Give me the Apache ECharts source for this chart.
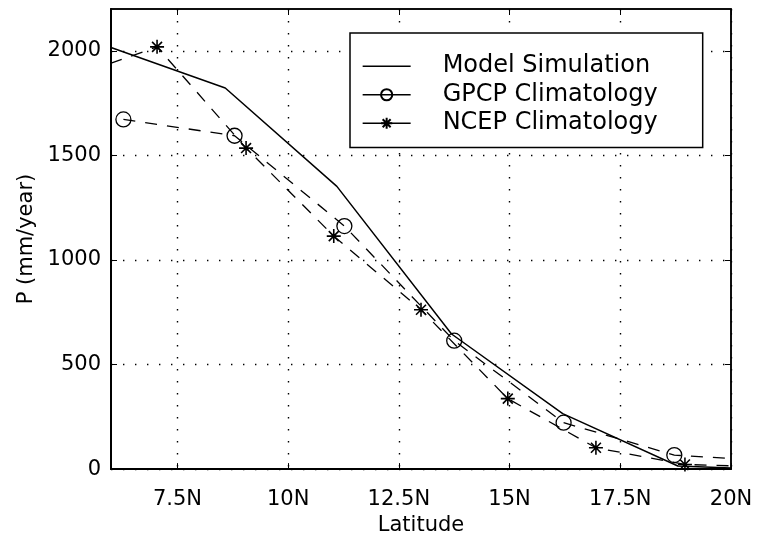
<!DOCTYPE html>
<html>
<head>
<meta charset="utf-8">
<script src="https://cdn.jsdelivr.net/npm/echarts@6/dist/echarts.min.js"></script>
<style>
html,body{margin:0;padding:0;background:#fff;}
#chart{width:757px;height:541px;}
</style>
</head>
<body>
<div id="chart"></div>
<script>
// ---- data ----
const modelLat = [6.0, 8.58, 11.1, 13.69, 16.2, 18.8, 20.0];
const modelVal = [2016, 1822, 1352, 646, 265, 15, 5];

const gpcpLat = [6.28, 8.79, 11.27, 13.75, 16.22, 18.72, 21.2];
const gpcpVal = [1672, 1594, 1162, 614, 222, 67, 35];

const ncepLat = [5.05, 7.04, 9.05, 11.03, 13.0, 14.96, 16.95, 18.96, 20.95];
const ncepVal = [1870, 2019, 1535, 1114, 762, 337, 102, 22, 10];

const xTicks = [7.5, 10, 12.5, 15, 17.5, 20];
const yTicks = [0, 500, 1000, 1500, 2000];

const seriesNames = ['Model Simulation', 'GPCP Climatology', 'NCEP Climatology'];
const xName = 'Latitude';
const yName = 'P (mm/year)';

function pairs(xs, ys) { return xs.map((x, i) => [x, ys[i]]); }

const FONT = 'DejaVu Sans';
const chart = echarts.init(document.getElementById('chart'), null, {renderer: 'canvas'});

const gridDots = {show: true, lineStyle: {color: '#000', width: 1.4, type: [1.4, 10.6]}};

chart.setOption({
  animation: false,
  backgroundColor: '#fff',
  textStyle: {fontFamily: FONT, color: '#000'},
  grid: {left: 111, top: 9, right: 26, bottom: 70, show: true, borderColor: '#000', borderWidth: 1.5, backgroundColor: 'transparent'},
  xAxis: [{
    type: 'value', min: 6, max: 20,
    name: xName, nameLocation: 'middle', nameGap: 40,
    nameTextStyle: {fontFamily: FONT, fontSize: 21, color: '#000'},
    axisLine: {show: true, onZero: false, lineStyle: {color: '#000', width: 2}},
    axisTick: {show: true, inside: true, length: 6, customValues: xTicks, lineStyle: {color: '#000', width: 1}},
    axisLabel: {show: true, customValues: xTicks, margin: 20, fontFamily: FONT, fontSize: 21, color: '#000',
      formatter: v => v + 'N'},
    splitLine: gridDots
  }, {
    type: 'value', min: 6, max: 20, position: 'top',
    axisLine: {show: true, onZero: false, lineStyle: {color: '#000', width: 1.5}},
    axisTick: {show: true, inside: true, length: 6, customValues: xTicks, lineStyle: {color: '#000', width: 1}},
    axisLabel: {show: false},
    splitLine: {show: false}
  }],
  yAxis: [{
    type: 'value', min: 0, max: 2200,
    name: yName, nameLocation: 'middle', nameGap: 57,
    nameTextStyle: {fontFamily: FONT, fontSize: 21, color: '#000'},
    axisLine: {show: true, onZero: false, lineStyle: {color: '#000', width: 2}},
    axisTick: {show: true, inside: true, length: 6, customValues: yTicks, lineStyle: {color: '#000', width: 1}},
    axisLabel: {show: true, customValues: yTicks, margin: 10, fontFamily: FONT, fontSize: 21, color: '#000',
      formatter: v => String(v)},
    splitLine: gridDots
  }, {
    type: 'value', min: 0, max: 2200, position: 'right',
    axisLine: {show: true, onZero: false, lineStyle: {color: '#000', width: 1.5}},
    axisTick: {show: true, inside: true, length: 6, customValues: yTicks, lineStyle: {color: '#000', width: 1}},
    axisLabel: {show: false},
    splitLine: {show: false}
  }],
  legend: {
    orient: 'vertical',
    left: 350, top: 33,
    padding: [19, 45, 10, 12],
    itemGap: 0,
    itemWidth: 48, itemHeight: 14,
    backgroundColor: '#fff',
    borderColor: '#000', borderWidth: 1.5,
    lineStyle: {type: 'solid', width: 1.3},
    textStyle: {fontFamily: FONT, fontSize: 24, color: '#000', lineHeight: 28.5, padding: [0, 0, 0, 27]},
    data: seriesNames
  },
  series: [{
    name: seriesNames[0], type: 'line', xAxisIndex: 0, yAxisIndex: 0,
    data: pairs(modelLat, modelVal),
    symbol: 'circle', showSymbol: false, clip: true,
    color: '#000',
    lineStyle: {color: '#000', width: 1.5, type: 'solid'},
    itemStyle: {color: 'rgba(255,255,255,0)', borderWidth: 0, borderColor: 'rgba(255,255,255,0)'}
  }, {
    name: seriesNames[1], type: 'line', xAxisIndex: 0, yAxisIndex: 0,
    data: pairs(gpcpLat, gpcpVal),
    symbol: 'circle', symbolSize: 15, clip: true,
    color: '#000',
    lineStyle: {color: '#000', width: 1.3, type: [12, 10]},
    itemStyle: {color: 'rgba(255,255,255,0)', borderColor: '#000', borderWidth: 1.3}
  }, {
    name: seriesNames[2], type: 'line', xAxisIndex: 0, yAxisIndex: 0,
    data: pairs(ncepLat, ncepVal),
    symbol: 'path://M0,-10 L0,10 M-10,0 L10,0 M-7.1,-7.1 L7.1,7.1 M-7.1,7.1 L7.1,-7.1',
    symbolSize: 14, clip: true,
    color: '#000',
    lineStyle: {color: '#000', width: 1.3, type: [12, 10]},
    itemStyle: {color: 'rgba(255,255,255,0)', borderColor: '#000', borderWidth: 1.6}
  }]
});
</script>
</body>
</html>
